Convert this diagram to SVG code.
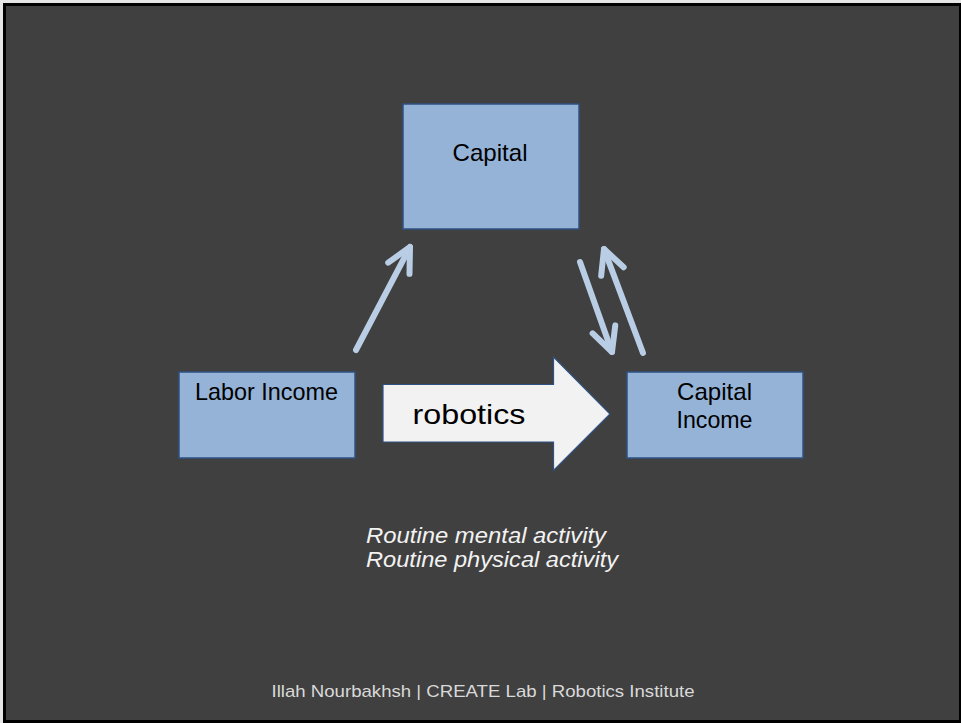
<svg xmlns="http://www.w3.org/2000/svg" width="961" height="723" viewBox="0 0 961 723">
  <style>
    .box { fill: #95b3d7; stroke: #2f5283; stroke-width: 1.5; }
    .lbl { font-family: "Liberation Sans", Arial, sans-serif; font-size: 24px; fill: #000; }
    .conn { fill: none; stroke: #b9cde5; stroke-width: 6; stroke-linecap: round; }
    .note { font-family: "Liberation Sans", Arial, sans-serif; font-size: 21.5px; font-style: italic; fill: #f2f2f2; }
    .foot { font-family: "Liberation Sans", Arial, sans-serif; font-size: 17px; fill: #d9d9d9; }
  </style>
  <defs>
    <marker id="chev" markerUnits="userSpaceOnUse" orient="auto" viewBox="-32 -16 36 32" refX="0" refY="0" markerWidth="36" markerHeight="32">
      <path d="M -24,-12 L 0,0 L -24,12" fill="none" stroke="#b9cde5" stroke-width="6" stroke-linecap="round" stroke-linejoin="round"/>
    </marker>
  </defs>
  <rect x="0" y="0" width="961" height="723" fill="#e6e6e6"/>
  <rect x="3" y="3" width="958" height="720" fill="#000"/>
  <rect x="6" y="6" width="953" height="714" fill="#404040"/>

  <g id="connectors">
    <line class="conn" x1="356" y1="350" x2="410" y2="247" marker-end="url(#chev)"/>
    <line class="conn" x1="580" y1="262" x2="612" y2="352" marker-end="url(#chev)"/>
    <line class="conn" x1="643" y1="353" x2="604" y2="249" marker-end="url(#chev)"/>
  </g>

  <g id="capital">
    <rect class="box" x="403" y="104" width="176" height="125"/>
    <text class="lbl" x="490" y="161" text-anchor="middle" textLength="75" lengthAdjust="spacingAndGlyphs">Capital</text>
  </g>

  <g id="labor-income">
    <rect class="box" x="179" y="372" width="176" height="86"/>
    <text class="lbl" x="266.5" y="400" text-anchor="middle" textLength="143" lengthAdjust="spacingAndGlyphs">Labor Income</text>
  </g>

  <g id="capital-income">
    <rect class="box" x="627" y="372" width="176" height="86"/>
    <text class="lbl" x="714.5" y="400" text-anchor="middle" textLength="75" lengthAdjust="spacingAndGlyphs">Capital</text>
    <text class="lbl" x="714.5" y="428" text-anchor="middle" textLength="76" lengthAdjust="spacingAndGlyphs">Income</text>
  </g>

  <g id="robotics">
    <path d="M 383,384.5 L 553.5,384.5 L 553.5,357 L 610,414 L 553.5,470.5 L 553.5,442 L 383,442 Z" fill="#f2f2f2" stroke="#2f5283" stroke-width="1.2"/>
    <text x="412.5" y="424" font-family="'Liberation Sans', Arial, sans-serif" font-size="28" fill="#000" textLength="113" lengthAdjust="spacingAndGlyphs">robotics</text>
  </g>

  <g id="notes">
    <text class="note" x="366" y="543" textLength="240" lengthAdjust="spacingAndGlyphs">Routine mental activity</text>
    <text class="note" x="366" y="567" textLength="252" lengthAdjust="spacingAndGlyphs">Routine physical activity</text>
  </g>

  <text class="foot" x="483" y="697" text-anchor="middle" textLength="423" lengthAdjust="spacingAndGlyphs">Illah Nourbakhsh | CREATE Lab | Robotics Institute</text>
</svg>
